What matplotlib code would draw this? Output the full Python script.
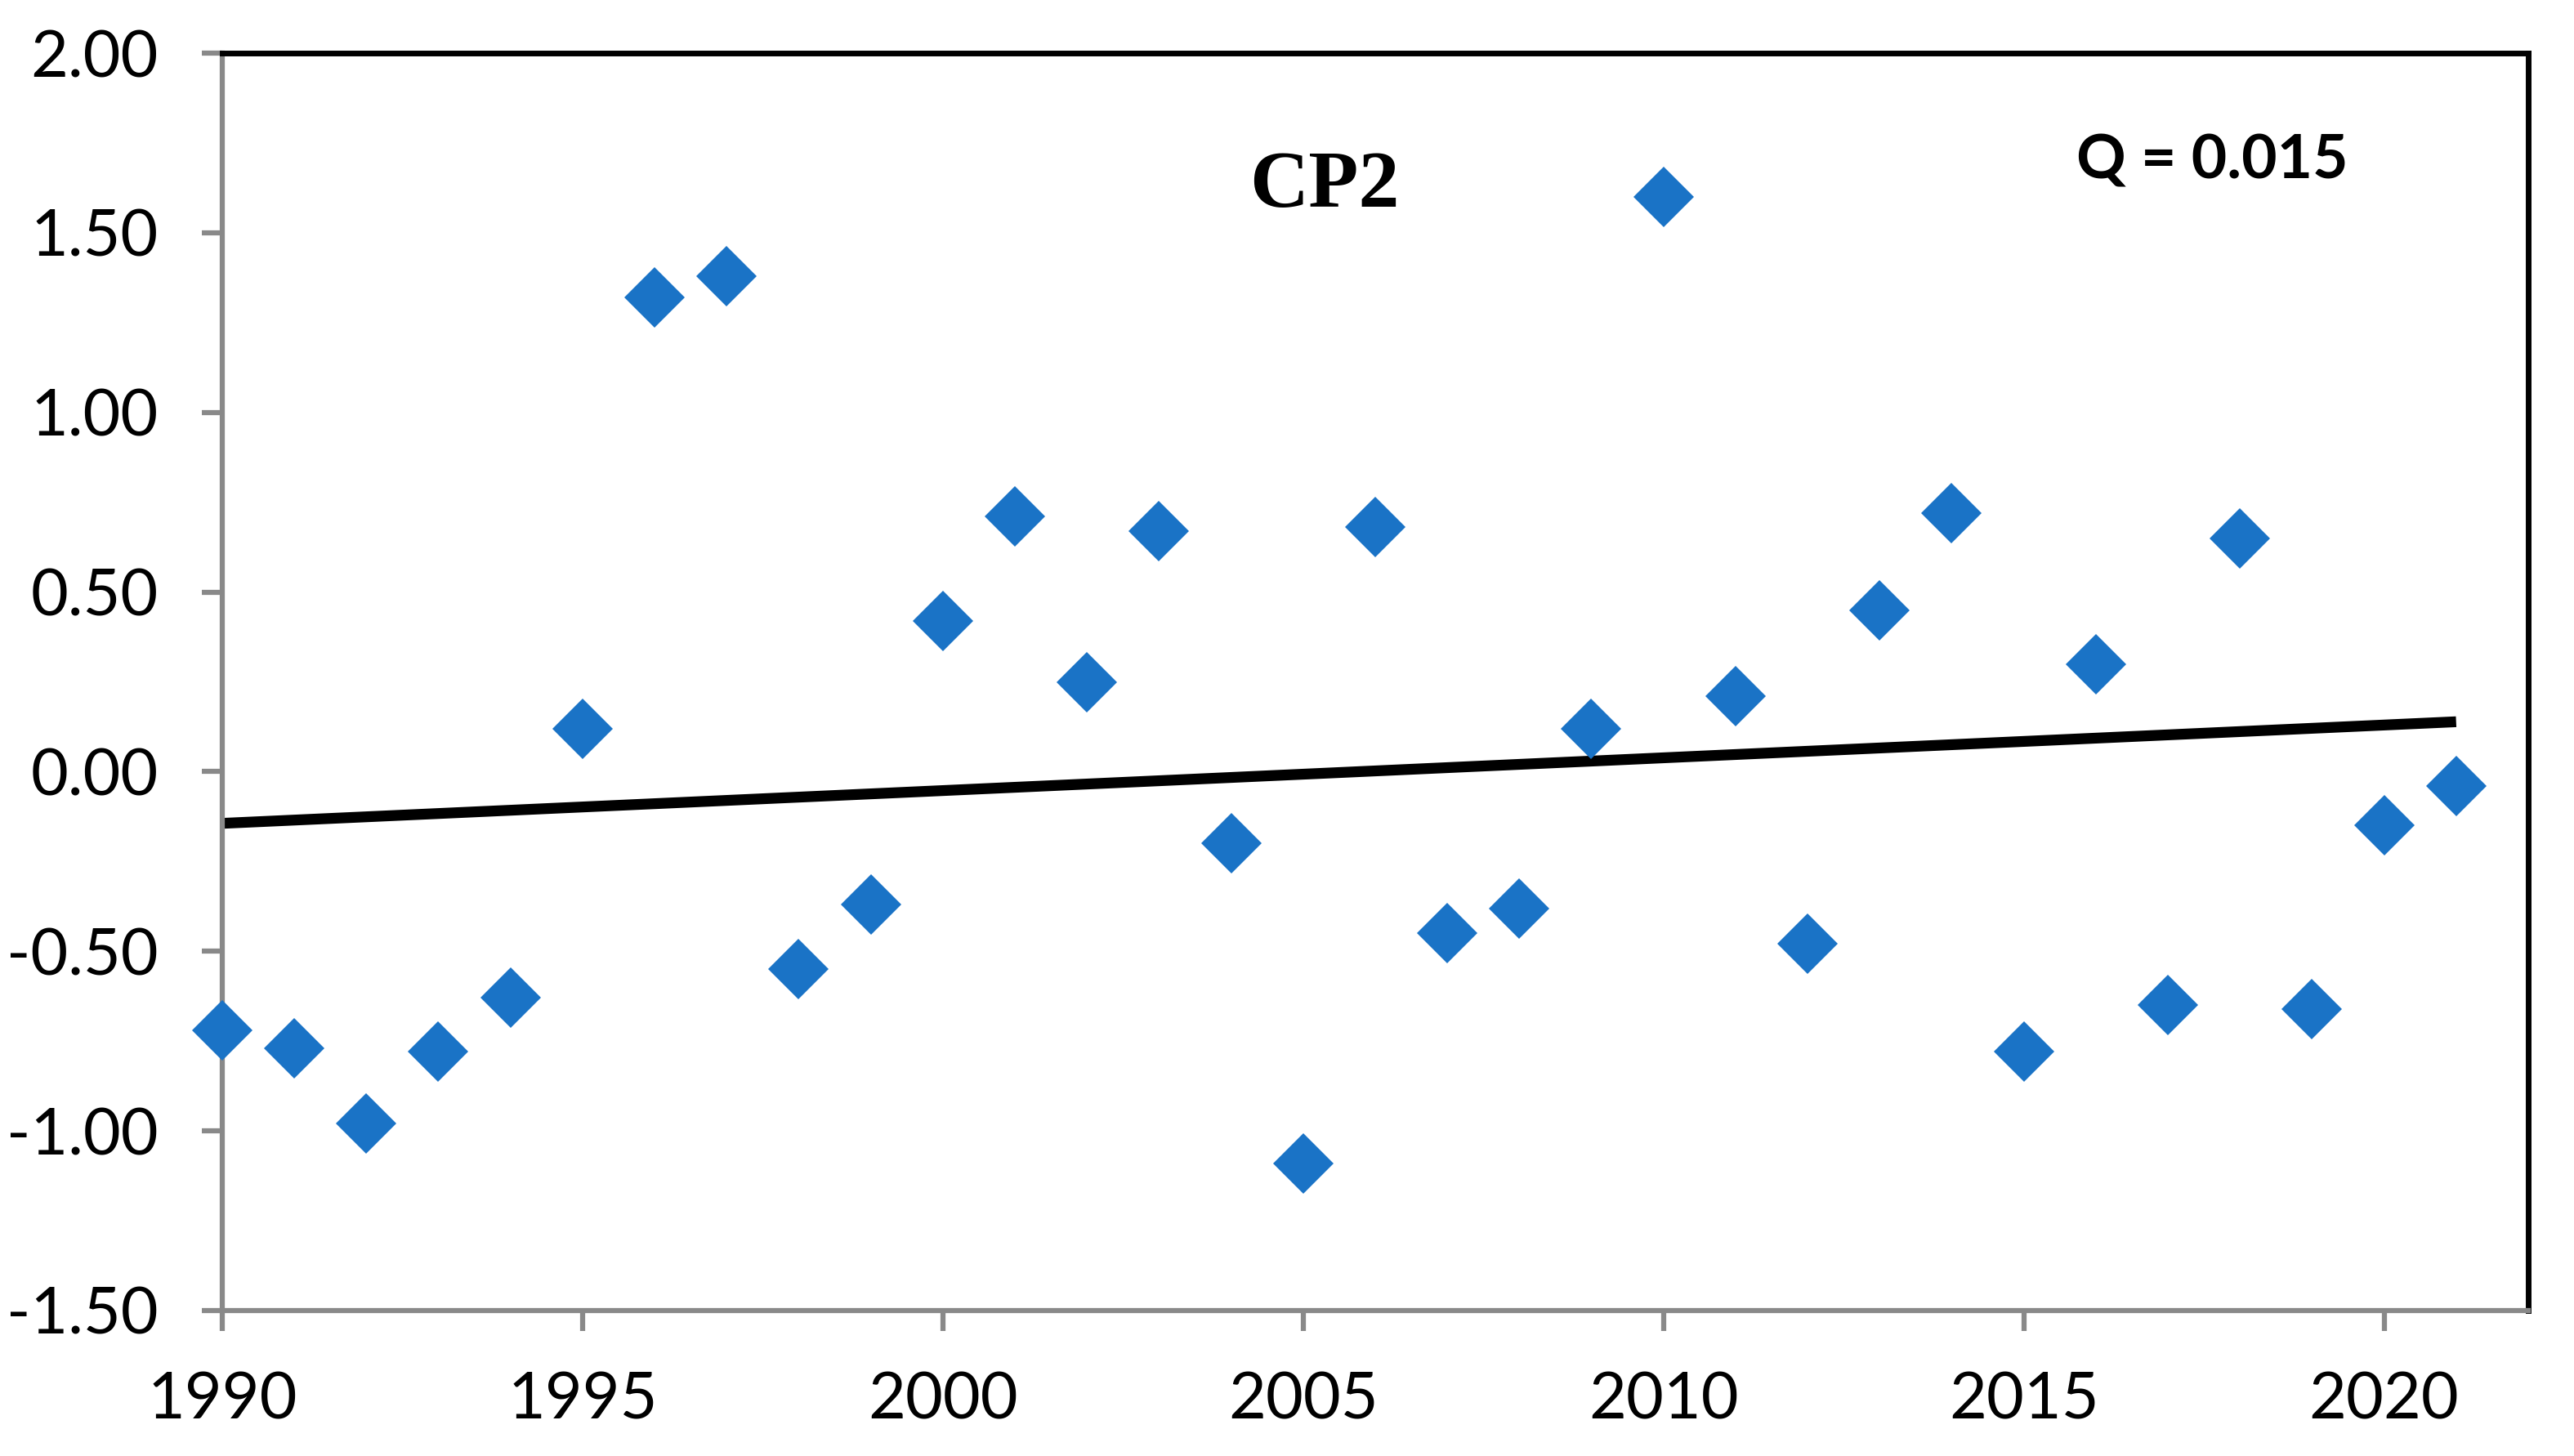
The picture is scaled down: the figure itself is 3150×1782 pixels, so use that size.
import numpy as np
import matplotlib.pyplot as plt

# CP2 index values, one per year
years = list(range(1990, 2022))
cp2 = [-0.72, -0.77, -0.98, -0.78, -0.63, 0.12, 1.32, 1.38, -0.55, -0.37,
       0.42, 0.71, 0.25, 0.67, -0.20, -1.09, 0.68, -0.45, -0.38, 0.12,
       1.60, 0.21, -0.48, 0.45, 0.72, -0.78, 0.30, -0.65, 0.65, -0.66,
       -0.15, -0.04]
y_ticks = [-1.5, -1.0, -0.5, 0.0, 0.5, 1.0, 1.5, 2.0]
x_ticks = [1990, 1995, 2000, 2005, 2010, 2015, 2020]

fig = plt.figure(figsize=(31.5, 17.82), dpi=100)
ax = fig.add_axes([0.0863, 0.0999, 0.8959, 0.8636])

ax.plot(years, cp2, linestyle='none', marker='D', markersize=38,
        color='#1A73C6', markeredgewidth=0, zorder=3, clip_on=False)

# linear trend through the series
slope, icpt = np.polyfit(years, cp2, 1)
yr = np.array([years[0], years[-1]])
ax.plot(yr, slope * yr + icpt, color='black', linewidth=9.5, zorder=2,
        solid_capstyle='butt')

ax.set_xlim(1990, 2022)
ax.set_ylim(-1.5, 2.0)
ax.set_xticks(x_ticks)
ax.set_yticks(y_ticks)
ax.set_yticklabels([f'{v:.2f}' for v in y_ticks])

for side in ['top', 'right']:
    ax.spines[side].set_color('black')
    ax.spines[side].set_linewidth(5)
for side in ['left', 'bottom']:
    ax.spines[side].set_color('#898989')
    ax.spines[side].set_linewidth(4.5)

ax.tick_params(axis='both', direction='out', length=18, width=4.5,
               color='#898989', labelsize=57, labelcolor='black')
ax.tick_params(axis='y', pad=38)
ax.tick_params(axis='x', pad=36)
for lab in ax.get_xticklabels() + ax.get_yticklabels():
    lab.set_family('Lato')

ax.text(0.478, 0.878, 'CP2', transform=ax.transAxes, ha='center', va='baseline',
        fontsize=72, fontweight='bold', family='Liberation Serif')
ax.text(0.863, 0.90, 'Q = 0.015', transform=ax.transAxes, ha='center', va='baseline',
        fontsize=54, fontweight='bold', family='Lato')

fig.savefig('out.png', dpi=100)
